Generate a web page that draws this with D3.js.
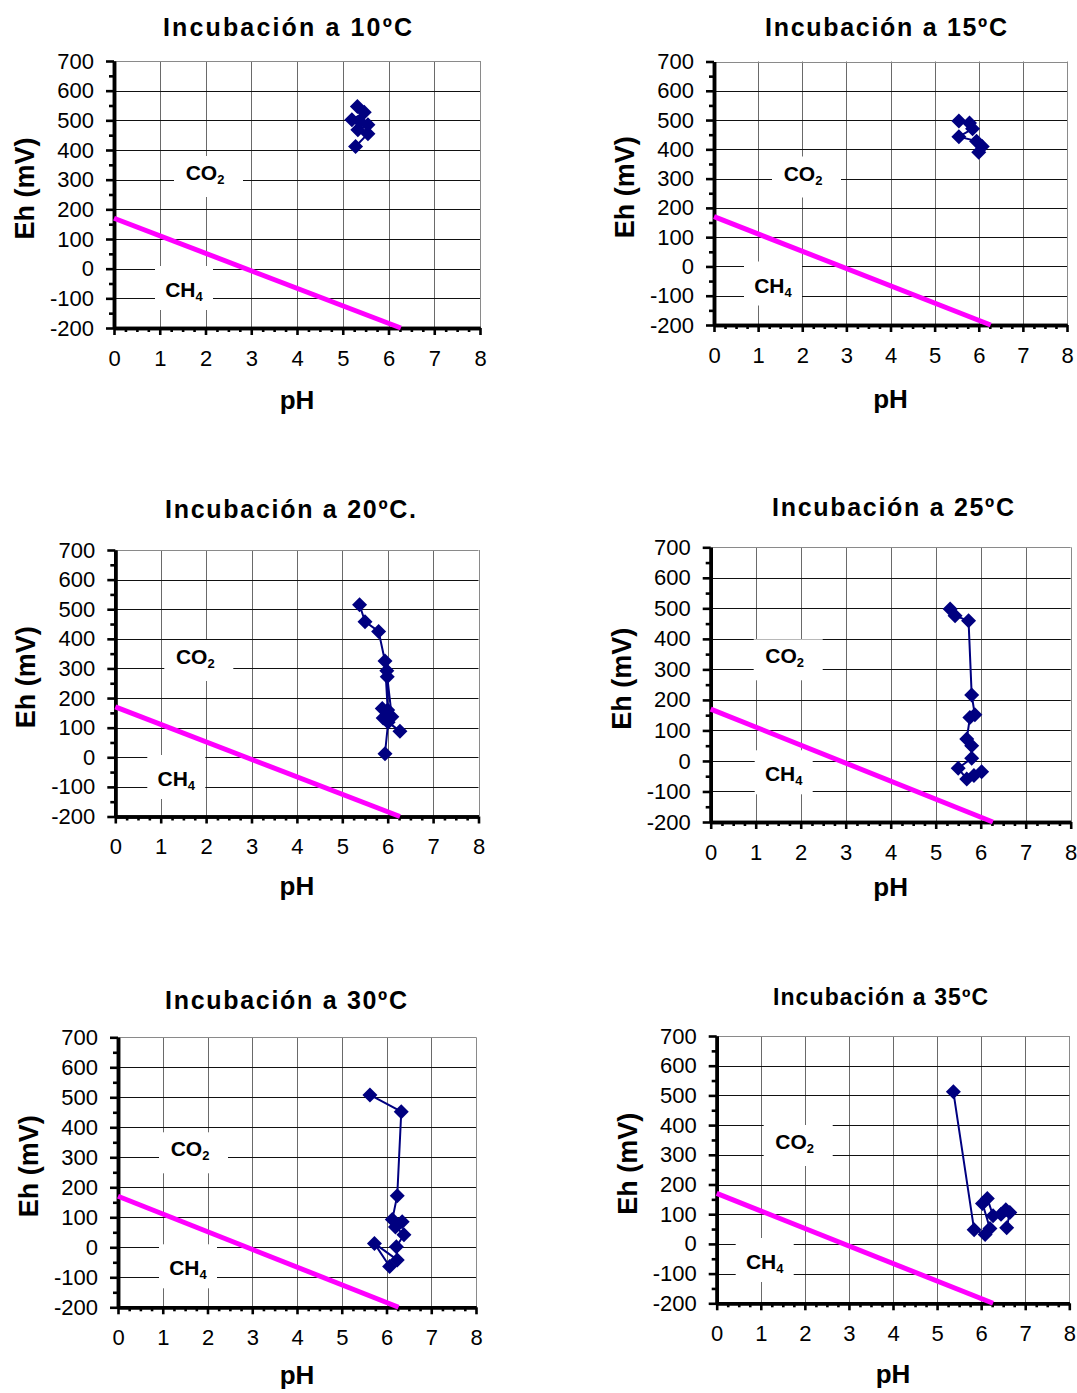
<!DOCTYPE html>
<html>
<head>
<meta charset="utf-8">
<script src="https://cdn.jsdelivr.net/npm/d3@7"></script>
<style>
  html, body { margin: 0; padding: 0; background: #fff; }
  svg { display: block; font-family: "Liberation Sans", Arial, sans-serif; }
</style>
</head>
<body>
<svg id="chart" width="1077" height="1393"></svg>
<script>
// ---------------- DATA ----------------
const panelTitles = ["Incubación a 10ºC", "Incubación a 15ºC", "Incubación a 20ºC.",
                     "Incubación a 25ºC", "Incubación a 30ºC", "Incubación a 35ºC"];
const xAxisTitle = "pH";
const yAxisTitle = "Eh (mV)";
const xTickValues = [0, 1, 2, 3, 4, 5, 6, 7, 8];
const yTickValues = [-200, -100, 0, 100, 200, 300, 400, 500, 600, 700];
const zoneMain = ["CO", "CH"];
const zoneSub = ["2", "4"];

// CO2 / CH4 boundary line (pH, Eh)
const boundaryPH = [0, 6.27];
const boundaryEh = [170, -200];

// Incubation series (pH, Eh mV), in measurement order
const ph10 = [5.32, 5.47, 5.20, 5.38, 5.55, 5.33, 5.55, 5.28];
const eh10 = [547, 527, 502, 495, 485, 468, 455, 412];

const ph15 = [5.55, 5.79, 5.86, 5.55, 5.95, 6.08, 6.00];
const eh15 = [497, 490, 470, 443, 428, 410, 390];

const ph20 = [5.38, 5.50, 5.80, 5.94, 6.00, 5.98, 5.99, 6.09, 5.88, 5.90, 6.27, 6.01, 5.94];
const eh20 = [515, 458, 425, 325, 160, 292, 272, 137, 165, 133, 88, 118, 12];

const ph25 = [5.32, 5.43, 5.73, 5.80, 5.87, 5.76, 5.69, 5.80, 5.80, 5.50, 5.69, 5.85, 6.02];
const eh25 = [498, 476, 459, 216, 151, 142, 72, 50, 9, -24, -59, -48, -35];

const ph30 = [5.63, 6.33, 6.24, 6.13, 6.35, 6.20, 6.39, 6.22, 6.24, 5.73, 6.07];
const eh30 = [508, 452, 172, 93, 85, 68, 42, 2, -42, 13, -64];

const ph35 = [5.37, 5.84, 6.09, 6.20, 6.03, 6.14, 6.27, 6.45, 6.56, 6.65, 6.58];
const eh35 = [512, 48, 32, 52, 136, 153, 95, 100, 115, 106, 54];

const seriesPH = [ph10, ph15, ph20, ph25, ph30, ph35];
const seriesEh = [eh10, eh15, eh20, eh25, eh30, eh35];

// ---------------- LAYOUT ----------------
const layout = [
  {l: 114,   r: 480,    t: 61,     b: 328,    tx: 287.5, ty: 36,   tw: 249, ts: 25, xt: 81, co2: [91, 112], ch4: [70, 229]},
  {l: 714,   r: 1067,   t: 61.5,   b: 325,    tx: 886,   ty: 36,   tw: 242, ts: 25, xt: 83, co2: [89, 112], ch4: [59, 224]},
  {l: 115.3, r: 478.5,  t: 550,    b: 816.5,  tx: 290.5, ty: 518,  tw: 251, ts: 25, xt: 78, co2: [80, 107], ch4: [61, 229]},
  {l: 710.7, r: 1070.7, t: 547.3,  b: 822,    tx: 893,   ty: 516,  tw: 242, ts: 25, xt: 74, co2: [74, 109], ch4: [73, 227]},
  {l: 118,   r: 476,    t: 1037.3, b: 1307.3, tx: 286,   ty: 1009, tw: 242, ts: 25, xt: 77, co2: [72, 112], ch4: [70, 231]},
  {l: 716.7, r: 1069.3, t: 1036,   b: 1303.3, tx: 880.5, ty: 1005, tw: 215, ts: 23, xt: 80, co2: [78, 106], ch4: [48, 226]}
];

const svg = d3.select("#chart");
const NAVY = "#000080";
const MAGENTA = "#FF00FF";

function crisp(v) { return Math.round(v) + 0.5; }

layout.forEach((L, i) => {
  const g = svg.append("g");
  const x = d3.scaleLinear().domain([xTickValues[0], xTickValues[xTickValues.length - 1]]).range([L.l, L.r]);
  const y = d3.scaleLinear().domain([yTickValues[0], yTickValues[yTickValues.length - 1]]).range([L.b, L.t]);

  // Grid
  const grid = g.append("g");
  xTickValues.slice(1).forEach(v => {
    const xx = crisp(x(v));
    grid.append("line").attr("x1", xx).attr("x2", xx).attr("y1", L.t).attr("y2", L.b)
      .attr("stroke", v === xTickValues[xTickValues.length - 1] ? "#8a8a8a" : "#6a6a6a").attr("stroke-width", 1);
  });
  yTickValues.slice(1).forEach(v => {
    const yy = crisp(y(v));
    grid.append("line").attr("x1", L.l).attr("x2", L.r).attr("y1", yy).attr("y2", yy)
      .attr("stroke", v === yTickValues[yTickValues.length - 1] ? "#8a8a8a" : "#111").attr("stroke-width", 1);
  });

  // Zone labels with white boxes
  const zones = [
    {pos: L.co2, box: [-31, -17, 69, 41], k: 0},
    {pos: L.ch4, box: [-29, -24, 58, 44], k: 1}
  ];
  zones.forEach(z => {
    const cx = L.l + z.pos[0], cy = L.t + z.pos[1];
    g.append("rect").attr("x", cx + z.box[0]).attr("y", cy + z.box[1])
      .attr("width", z.box[2]).attr("height", z.box[3]).attr("fill", "#fff");
    const t = g.append("text").attr("x", cx).attr("y", cy + 7)
      .attr("text-anchor", "middle").attr("font-weight", "bold").attr("font-size", 21).attr("fill", "#000");
    t.append("tspan").text(zoneMain[z.k]);
    t.append("tspan").attr("font-size", 13).attr("dy", 4).text(zoneSub[z.k]);
  });

  // Axes
  const fmt = d => String(d);
  const yAxis = d3.axisLeft(y).tickValues(yTickValues).tickSize(8).tickSizeOuter(0).tickPadding(12).tickFormat(fmt);
  const yMinor = d3.axisLeft(y).tickValues(d3.range(-150, 700, 100)).tickSize(5).tickSizeOuter(0).tickFormat("");
  const xAxis = d3.axisBottom(x).tickValues(xTickValues).tickSize(7).tickSizeOuter(0).tickPadding(15).tickFormat(fmt);
  const xMinor = d3.axisBottom(x).tickValues(d3.range(0, 8, 0.25).filter(v => v % 1 !== 0)).tickSize(4).tickSizeOuter(0).tickFormat("");

  const ya = g.append("g").attr("transform", `translate(${L.l},0)`).call(yAxis);
  const ym = g.append("g").attr("transform", `translate(${L.l},0)`).call(yMinor);
  const xa = g.append("g").attr("transform", `translate(0,${L.b})`).call(xAxis);
  const xm = g.append("g").attr("transform", `translate(0,${L.b})`).call(xMinor);
  [ya, ym, xa, xm].forEach(a => {
    a.select(".domain").attr("stroke", "#000").attr("stroke-width", 3.5);
    a.selectAll(".tick line").attr("stroke", "#000").attr("stroke-width", 2.6);
    a.selectAll(".tick text").attr("font-size", 22).attr("fill", "#000")
      .attr("font-family", "'Liberation Sans', Arial, sans-serif");
  });

  // Axis titles
  g.append("text").attr("x", (L.l + L.r) / 2).attr("y", L.b + L.xt)
    .attr("text-anchor", "middle").attr("font-weight", "bold").attr("font-size", 26).text(xAxisTitle);
  const ycx = L.l - 80, ycy = (L.t + L.b) / 2 - 6;
  g.append("text").attr("transform", `translate(${ycx},${ycy}) rotate(-90)`)
    .attr("text-anchor", "middle").attr("font-weight", "bold").attr("font-size", 27).text(yAxisTitle);

  // Panel title
  g.append("text").attr("x", L.tx).attr("y", L.ty).attr("text-anchor", "middle")
    .attr("font-weight", "bold").attr("font-size", L.ts)
    .attr("textLength", L.tw).attr("lengthAdjust", "spacing").text(panelTitles[i]);

  // Boundary line
  const boundary = boundaryPH.map((p, k) => [p, boundaryEh[k]]);
  g.append("path").datum(boundary)
    .attr("d", d3.line().x(d => x(d[0])).y(d => y(d[1])))
    .attr("stroke", MAGENTA).attr("stroke-width", 5).attr("fill", "none");

  // Data series
  const pts = seriesPH[i].map((p, k) => [p, seriesEh[i][k]]);
  g.append("path").datum(pts)
    .attr("d", d3.line().x(d => x(d[0])).y(d => y(d[1])))
    .attr("stroke", NAVY).attr("stroke-width", 2).attr("fill", "none");
  const s = 7.5;
  g.selectAll(".pt").data(pts).enter().append("path")
    .attr("transform", d => `translate(${x(d[0])},${y(d[1])})`)
    .attr("d", `M0,${-s}L${s},0L0,${s}L${-s},0Z`)
    .attr("fill", NAVY);
});
</script>
</body>
</html>
